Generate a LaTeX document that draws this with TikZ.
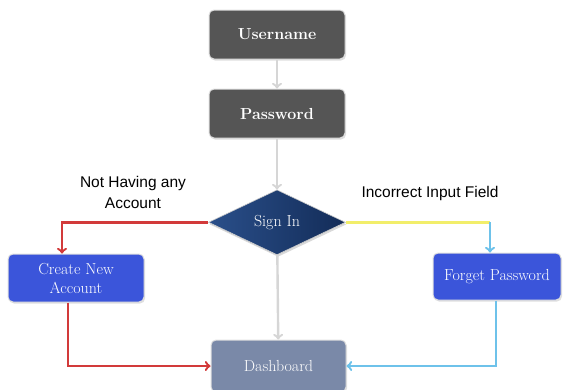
\documentclass[tikz,border=0pt]{standalone}
\usepackage{fontspec}
\newfontfamily\labelfont{Liberation Sans}
\usepackage{tikz}
\usetikzlibrary{positioning,shapes.geometric,shadows}

\definecolor{boxgray}{HTML}{555555}
\definecolor{navy}{HTML}{132C58}
\definecolor{navylight}{HTML}{2A4F8A}
\definecolor{boxblue}{HTML}{3B55DA}
\definecolor{dashgray}{HTML}{7A89A8}
\definecolor{linered}{HTML}{D23A3A}
\definecolor{lineyellow}{HTML}{F2EE6A}
\definecolor{lineblue}{HTML}{6EC2EA}
\definecolor{linegray}{HTML}{D6D6D6}

\tikzset{
    box/.style={draw=gray!25, line width=1pt, rectangle, rounded corners=5pt, align=center, text=white, font=\fontsize{16}{19}\selectfont, drop shadow={opacity=0.25, shadow xshift=1pt, shadow yshift=-1.5pt}},
    flow/.style={->, line width=2.4pt}
}

\begin{document}
\begin{tikzpicture}[x=1pt, y=-1pt, node distance=29pt]
    \useasboundingbox (0,0) rectangle (564,389);
    \begin{scope}
    \clip (0,0) rectangle (564,389);
    \node (user) [box, fill=boxgray, minimum width=136pt, minimum height=49pt, font=\fontsize{16}{19}\selectfont\bfseries] at (277,34.5) {Username};
    \node (pass) [box, fill=boxgray, minimum width=136pt, minimum height=49pt, font=\fontsize{16}{19}\selectfont\bfseries, below=of user] {Password};
    \node (signin) [diamond, aspect=2.1, inner sep=1pt, minimum width=137pt, minimum height=65pt, draw=gray!40, line width=0.6pt, left color=navylight, right color=navy, text=white, font=\fontsize{16}{19}\selectfont, drop shadow={opacity=0.3, shadow xshift=1pt, shadow yshift=-2pt}, below=51pt of pass] {Sign In};
    \node (create) [box, fill=boxblue, minimum width=136pt, minimum height=48pt] at (76,278) {Create New\\ Account};
    \node (forget) [box, fill=boxblue, minimum width=128pt, minimum height=47pt] at (497,276.5) {Forget Password};
    \node (dash) [box, fill=dashgray, minimum width=135pt, minimum height=52pt] at (278.5,366) {Dashboard};

    \node (noacc) [font=\labelfont\fontsize{15.5}{21}\selectfont, align=center] at (133,192.5) {Not Having any\\ Account};
    \node (wrong) [font=\labelfont\fontsize{15.5}{18}\selectfont] at (430,193) {Incorrect Input Field};

    \draw[flow, linegray] (user) -- (pass);
    \draw[flow, linegray] (pass) -- (signin);
    \draw[flow, linegray] (signin) -- (dash);

    % left branch
    \draw[flow, linered] (signin.west) -| ([xshift=-14pt]create.north);
    \draw[flow, linered] ([xshift=-8pt]create.south) |- (dash.west);

    % right branch
    \coordinate (turn) at ([xshift=-7pt]forget.north |- signin.east);
    \draw[line width=2.4pt, lineyellow] (signin.east) -- (turn);
    \draw[flow, lineblue] (turn) -- ([xshift=-7pt]forget.north);
    \draw[flow, lineblue] ([xshift=-1pt]forget.south) |- (dash.east);
    \end{scope}
\end{tikzpicture}
\end{document}
